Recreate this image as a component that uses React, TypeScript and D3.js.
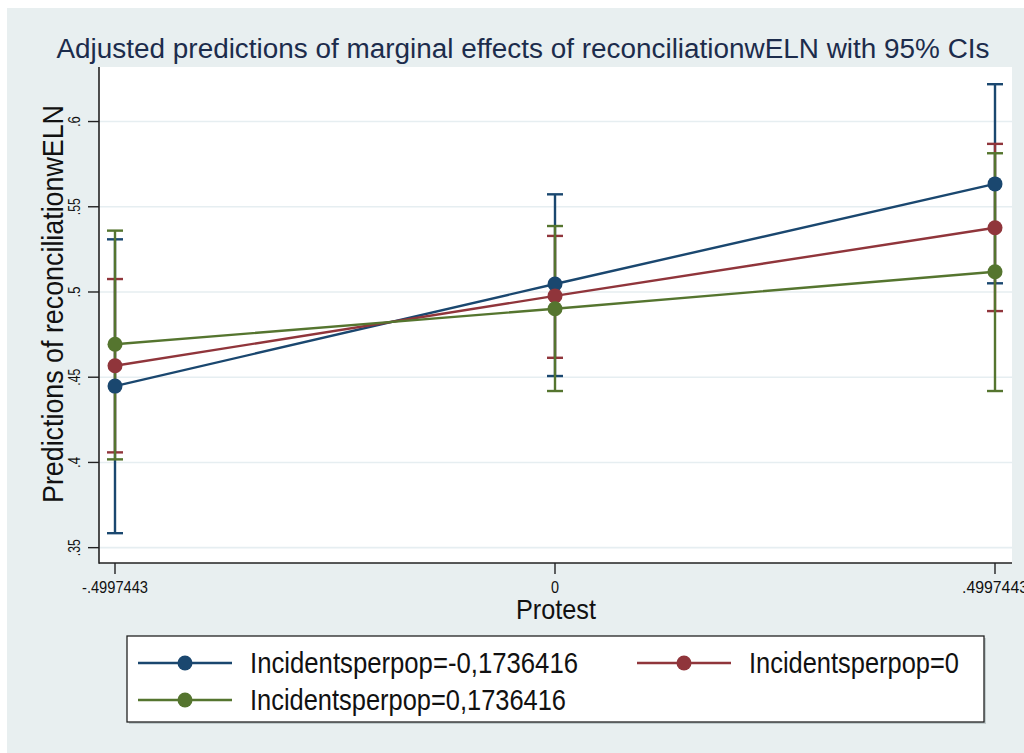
import React from 'react'
import * as d3 from 'd3'

const protestLevels = [-0.4997443, 0, 0.4997443]
const xTickLabels = ['-.4997443', '0', '.4997443']
const yTicks = [0.35, 0.4, 0.45, 0.5, 0.55, 0.6]
const yTickLabels = ['.35', '.4', '.45', '.5', '.55', '.6']

const seriesNames = ['Incidentsperpop=-0,1736416', 'Incidentsperpop=0', 'Incidentsperpop=0,1736416']
const seriesColors = ['#1a476f', '#90353b', '#55752f']

const lowMargins = [0.4448, 0.5047, 0.5634]
const lowLower = [0.3585, 0.4507, 0.5051]
const lowUpper = [0.5309, 0.5573, 0.6219]

const zeroMargins = [0.4567, 0.4977, 0.5377]
const zeroLower = [0.4059, 0.4614, 0.4888]
const zeroUpper = [0.5076, 0.5329, 0.5869]

const highMargins = [0.4693, 0.4902, 0.5119]
const highLower = [0.4018, 0.4419, 0.4419]
const highUpper = [0.536, 0.5387, 0.5814]

const font = '"Liberation Sans", Arial, Helvetica, sans-serif'

export default function App() {
  const plot = { left: 99, right: 1012, top: 67, bottom: 563 }

  const x = d3.scaleLinear()
    .domain([protestLevels[0], protestLevels[2]])
    .range([115, 995])
  const y = d3.scaleLinear()
    .domain([0.341, 0.632])
    .range([plot.bottom, plot.top])

  const series = [
    { name: seriesNames[0], color: seriesColors[0], m: lowMargins, lo: lowLower, hi: lowUpper },
    { name: seriesNames[1], color: seriesColors[1], m: zeroMargins, lo: zeroLower, hi: zeroUpper },
    { name: seriesNames[2], color: seriesColors[2], m: highMargins, lo: highLower, hi: highUpper },
  ]

  const line = d3.line<number>()
    .x((d, i) => x(protestLevels[i]))
    .y(d => y(d))

  const capW = 8

  // legend layout (text widths squeezed like the narrow Helvetica of the original)
  const lg = { x: 127, y: 636, w: 857, h: 86 }
  const legendPos = [
    { sx: 138, row: 663, tw: 328 },
    { sx: 637, row: 663, tw: 210 },
    { sx: 138, row: 700, tw: 316 },
  ]
  const xLabelW = [66, 8, 66]

  return (
    <svg width={1024} height={753} style={{ position: 'absolute', left: 0, top: 0, display: 'block' }}
      fontFamily={font}>
      <rect x={0} y={0} width={1024} height={753} fill="#fff" />
      <rect x={7} y={8} width={1017} height={745} fill="#e8eff0" />
      <rect x={plot.left} y={plot.top} width={plot.right - plot.left} height={plot.bottom - plot.top} fill="#fff" />

      {/* grid */}
      {yTicks.map(t => (
        <line key={'g' + t} x1={plot.left} x2={plot.right} y1={y(t)} y2={y(t)} stroke="#e6eef1" strokeWidth={1.6} />
      ))}

      {/* axes */}
      <line x1={plot.left} x2={plot.left} y1={plot.top} y2={plot.bottom + 0.8} stroke="#222" strokeWidth={1.6} />
      <line x1={plot.left} x2={plot.right} y1={plot.bottom} y2={plot.bottom} stroke="#222" strokeWidth={1.6} />

      {yTicks.map((t, i) => (
        <g key={'yt' + t}>
          <line x1={plot.left - 11} x2={plot.left} y1={y(t)} y2={y(t)} stroke="#222" strokeWidth={1.4} />
          <text transform={`translate(80,${y(t)}) rotate(-90)`} textAnchor="middle" fontSize={16} fill="#111"
            textLength={yTickLabels[i].length > 2 ? 17 : 11} lengthAdjust="spacingAndGlyphs">
            {yTickLabels[i]}
          </text>
        </g>
      ))}

      {protestLevels.map((p, i) => (
        <g key={'xt' + i}>
          <line x1={x(p)} x2={x(p)} y1={plot.bottom} y2={plot.bottom + 11} stroke="#222" strokeWidth={1.4} />
          <text x={x(p)} y={593} textAnchor="middle" fontSize={16} fill="#111"
            textLength={xLabelW[i]} lengthAdjust="spacingAndGlyphs">{xTickLabels[i]}</text>
        </g>
      ))}

      <text x={523} y={58} textAnchor="middle" fontSize={27} fill="#1c2c4c" textLength={933} lengthAdjust="spacingAndGlyphs">
        Adjusted predictions of marginal effects of reconciliationwELN with 95% CIs
      </text>
      <text transform="translate(63,304) rotate(-90)" textAnchor="middle" fontSize={30} fill="#111"
        textLength={398} lengthAdjust="spacingAndGlyphs">
        Predictions of reconciliationwELN
      </text>
      <text x={556} y={619} textAnchor="middle" fontSize={28} fill="#111" textLength={80} lengthAdjust="spacingAndGlyphs">Protest</text>

      {/* confidence intervals */}
      {series.map(s => (
        <g key={'ci' + s.name} stroke={s.color} strokeWidth={2.4}>
          {protestLevels.map((p, i) => (
            <g key={i}>
              <line x1={x(p)} x2={x(p)} y1={y(s.lo[i])} y2={y(s.hi[i])} />
              <line x1={x(p) - capW} x2={x(p) + capW} y1={y(s.lo[i])} y2={y(s.lo[i])} />
              <line x1={x(p) - capW} x2={x(p) + capW} y1={y(s.hi[i])} y2={y(s.hi[i])} />
            </g>
          ))}
        </g>
      ))}

      {/* connected margins */}
      {series.map(s => (
        <g key={'ln' + s.name}>
          <path d={line(s.m) || ''} fill="none" stroke={s.color} strokeWidth={2.4} />
          {s.m.map((v, i) => (
            <circle key={i} cx={x(protestLevels[i])} cy={y(v)} r={7.5} fill={s.color} />
          ))}
        </g>
      ))}

      {/* legend */}
      <rect x={lg.x + 2} y={lg.y + 2} width={lg.w} height={lg.h} fill="#9aa" opacity={0.5} />
      <rect x={lg.x} y={lg.y} width={lg.w} height={lg.h} fill="#fff" stroke="#222" strokeWidth={1.3} />
      {series.map((s, i) => {
        const pos = legendPos[i]
        return (
          <g key={'lg' + s.name}>
            <line x1={pos.sx} x2={pos.sx + 94} y1={pos.row} y2={pos.row} stroke={s.color} strokeWidth={2.4} />
            <circle cx={pos.sx + 47} cy={pos.row} r={7.5} fill={s.color} />
            <text x={pos.sx + 112} y={pos.row + 10} fontSize={29} fill="#111"
              textLength={pos.tw} lengthAdjust="spacingAndGlyphs">{s.name}</text>
          </g>
        )
      })}
    </svg>
  )
}
